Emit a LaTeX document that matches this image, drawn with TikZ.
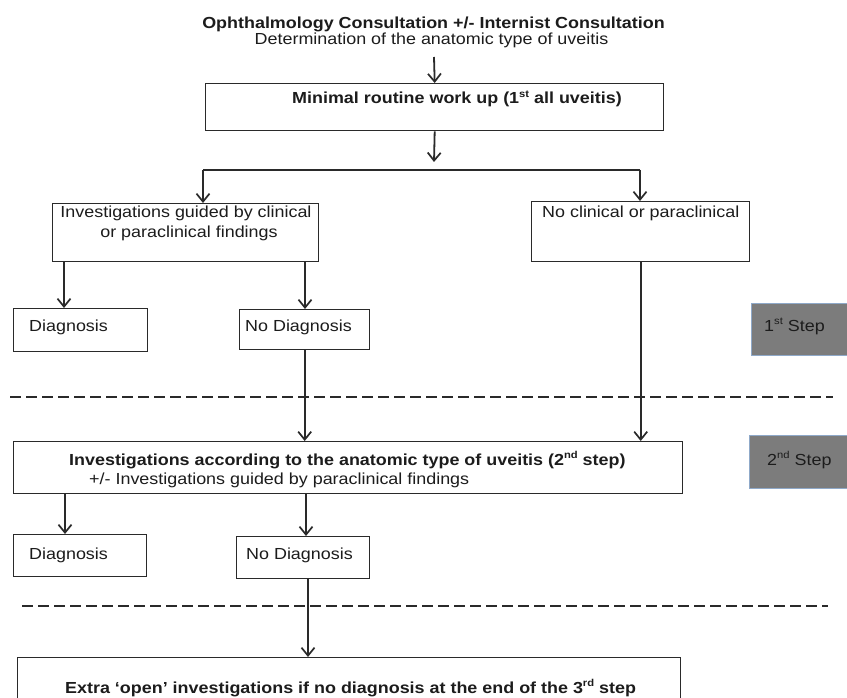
\documentclass[tikz,border=0pt]{standalone}
\usepackage{fontspec}
\usepackage{graphicx}
\setmainfont{Liberation Sans}
\usetikzlibrary{arrows.meta}
\definecolor{linec}{HTML}{2A2A2A}
\definecolor{textc}{HTML}{1C1C1C}
\definecolor{stepfill}{HTML}{7C7C7C}
\definecolor{stepdraw}{HTML}{8FA9C9}
\newcommand{\W}[1]{\scalebox{1.12}[1]{#1}}
\newcommand{\sups}[1]{\raisebox{0.42em}{\fontsize{10}{10}\selectfont #1}}
\tikzset{
  box/.style={draw=linec, line width=1.4pt, fill=white, inner sep=0pt, anchor=north west},
  stepbox/.style={draw=stepdraw, line width=1pt, fill=stepfill, inner sep=0pt, anchor=north west},
  txt/.style={text=textc, inner sep=0pt, font=\fontsize{16}{19}\selectfont},
  ln/.style={draw=linec, line width=1.8pt},
  arr/.style={ln, -{Straight Barb[length=8pt,width=13pt,line width=1.7pt]}},
  sep/.style={draw=linec, line width=2.4pt, dash pattern=on 11pt off 5pt}
}
\begin{document}
\begin{tikzpicture}[x=1pt,y=-1pt]
\useasboundingbox (0,0) rectangle (847,698);
\clip (0,0) rectangle (847,698);
\fill[white] (0,0) rectangle (847,698);

% title
\node[txt, anchor=base] (t1) at (433.5,29) {\W{\bfseries Ophthalmology Consultation +/- Internist Consultation}};
\node[txt, anchor=base] (t2) at (431.5,45) {\W{Determination of the anatomic type of uveitis}};

% boxes
\node[box, minimum width=458pt, minimum height=47pt] (b1) at (205,83) {};
\node[box, minimum width=266pt, minimum height=58pt] (b2) at (52,203) {};
\node[box, minimum width=218pt, minimum height=60pt] (b3) at (531,201) {};
\node[box, minimum width=134pt, minimum height=43pt] (d1) at (13,308) {};
\node[box, minimum width=130pt, minimum height=40pt] (n1) at (239,309) {};
\node[stepbox, minimum width=100pt, minimum height=52pt] (s1) at (751,303) {};
\node[box, minimum width=669pt, minimum height=52pt] (b4) at (13,441) {};
\node[stepbox, minimum width=102pt, minimum height=53pt] (s2) at (749,435) {};
\node[box, minimum width=133pt, minimum height=42pt] (d2) at (13,534) {};
\node[box, minimum width=133pt, minimum height=42pt] (n2) at (236,536) {};
\node[box, minimum width=663pt, minimum height=60pt] (b5) at (17,657) {};

% texts
\node[txt, anchor=base west] (b1t) at (292,104) {\W{\bfseries Minimal routine work up (1\sups{st} all uveitis)}};
\node[txt, anchor=base] (b2t1) at (186,218) {\W{Investigations guided by clinical}};
\node[txt, anchor=base] (b2t2) at (189,237) {\W{or paraclinical findings}};
\node[txt, anchor=base west] (b3t) at (542,218) {\W{No clinical or paraclinical}};
\node[txt, anchor=base west] (d1t) at (29,331) {\W{Diagnosis}};
\node[txt, anchor=base west] (n1t) at (245,331) {\W{No Diagnosis}};
\node[txt, anchor=base west] (s1t) at (764,331) {\W{1\sups{st} Step}};
\node[txt, anchor=base west] (b4t1) at (69,465) {\W{\bfseries Investigations according to the anatomic type of uveitis (2\sups{nd} step)}};
\node[txt, anchor=base west] (b4t2) at (89,484) {\W{+/- Investigations guided by paraclinical findings}};
\node[txt, anchor=base west] (s2t) at (767,465) {\W{2\sups{nd} Step}};
\node[txt, anchor=base west] (d2t) at (29,559) {\W{Diagnosis}};
\node[txt, anchor=base west] (n2t) at (246,559) {\W{No Diagnosis}};
\node[txt, anchor=base west] (b5t) at (65,693) {\W{\bfseries Extra `open' investigations if no diagnosis at the end of the 3\sups{rd} step}};

% separators
\draw[sep] (10,397) -- (833,397);
\draw[sep] (22,606) -- (828,606);

% connectors
\coordinate (t0) at (434,57);
\draw[arr] (t0) -- (b1.north);
\coordinate (j1) at (434,162);
\draw[arr] (b1.south) -- (j1);
\coordinate (hl) at (203,170);
\coordinate (hr) at (640,170);
\draw[ln] (hl) -- (hr);
\draw[arr] (hl) -- (hl |- b2.north);
\draw[arr] (hr) -- (hr |- b3.north);
\coordinate (a1) at ([xshift=12pt]b2.south west);
\coordinate (a2) at ([xshift=253pt]b2.south west);
\draw[arr] (a1) -- (a1 |- d1.north);
\draw[arr] (a2) -- (a2 |- n1.north);
\draw[arr] (n1.south) -- (n1.south |- b4.north);
\draw[arr] (b3.south) -- (b3.south |- b4.north);
\coordinate (a3) at ([xshift=52pt]b4.south west);
\coordinate (a4) at ([xshift=293pt]b4.south west);
\draw[arr] (a3) -- (a3 |- d2.north);
\draw[arr] (a4) -- (a4 |- n2.north);
\coordinate (a5) at ([xshift=72pt]n2.south west);
\draw[arr] (a5) -- (a5 |- b5.north);
\end{tikzpicture}
\end{document}
